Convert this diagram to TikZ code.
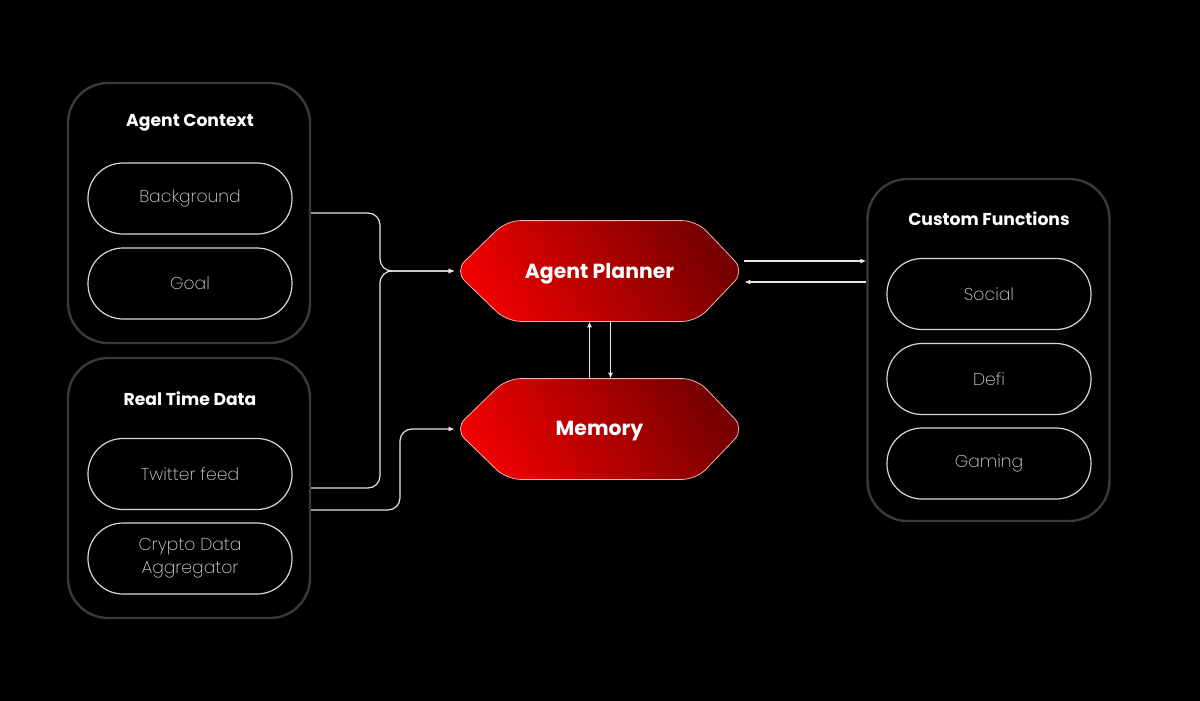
\documentclass[tikz,border=0pt]{standalone}
\usepackage{fontspec}
\setmainfont{Poppins}
\newfontfamily\lightfont{Poppins ExtraLight}
\usetikzlibrary{arrows.meta}
\definecolor{boxgray}{HTML}{3A3A3A}
\definecolor{pillgray}{HTML}{D8D8D8}
\definecolor{txtgray}{HTML}{D4D4D4}
\definecolor{linegray}{HTML}{E6E6E6}
\definecolor{redA}{HTML}{EE0000}
\definecolor{redB}{HTML}{760000}
\definecolor{hexedge}{HTML}{F0B0B0}
\tikzset{
  outerbox/.style={draw=boxgray, line width=1.2pt, rounded corners=20pt,
    minimum width=121pt, inner sep=0pt},
  pill/.style={draw=pillgray, line width=0.6pt, rounded corners=17.5pt,
    minimum width=102pt, minimum height=35.5pt, inner sep=0pt,
    font=\lightfont\fontsize{8.6}{10.5}\selectfont, text=txtgray, align=center},
  title/.style={font=\bfseries\fontsize{8.6}{10}\selectfont, text=white},
  hexanchor/.style={minimum width=144.5pt, minimum height=50pt, inner sep=0pt},
  hexlabel/.style={font=\bfseries\fontsize{10.2}{12}\selectfont, text=white},
  conn/.style={draw=linegray, line width=0.6pt, rounded corners=6pt,
    -{Latex[length=3pt,width=2.6pt]}},
}
\begin{document}
\begin{tikzpicture}[x=0.5pt,y=-0.5pt]
\fill[black] (0,0) rectangle (1200,701);
\useasboundingbox (0,0) rectangle (1200,701);

% Agent Context
\node[outerbox, minimum height=130pt] (ctx) at (189,213) {};
\node[title] (ctxt) at (190,123) {Agent Context};
\node[pill] (bg) at (190,198.5) {Background};
\node[pill] (goal) at (190,283.5) {Goal};

% Real Time Data
\node[outerbox, minimum height=130pt] (rtd) at (189,488) {};
\node[title] (rtdt) at (190,399) {Real Time Data};
\node[pill] (tw) at (190,474) {Twitter feed};
\node[pill, font=\lightfont\fontsize{8.6}{11.5}\selectfont] (cda) at (190,558.5) {Crypto Data\\Aggregator};

% Custom Functions
\node[outerbox, minimum height=171pt] (cf) at (988.5,350) {};
\node[title] (cft) at (989,219) {Custom Functions};
\node[pill] (soc) at (989,294) {Social};
\node[pill] (defi) at (989,379) {Defi};
\node[pill] (gam) at (989,463.5) {Gaming};

% Hexagons
\node[hexanchor] (ap) at (599.5,271) {};
\node[hexanchor] (mem) at (599.5,429) {};
\foreach \h in {ap,mem}{
  \shade[left color=redA, right color=redB, shading angle=120, draw=hexedge, line width=0.4pt, rounded corners=7pt]
    (\h.west) -- ([xshift=26pt]\h.north west) -- ([xshift=-24pt]\h.north east)
    -- (\h.east) -- ([xshift=-24pt]\h.south east) -- ([xshift=26pt]\h.south west) -- cycle;
}
\node[hexlabel] (apl) at ([yshift=-1.2pt]ap.center) {Agent Planner};
\node[hexlabel] (meml) at ([yshift=-1.2pt]mem.center) {Memory};

% connectors
\draw[conn] (ctx.east) -| (380,271) -- (ap.west);
\draw[conn] (rtd.east) -| (380,271) -- (ap.west);
\draw[conn] ([yshift=-11pt]rtd.east) -| (400,429) -- (mem.west);
\draw[conn] ([xshift=-5pt]mem.north) -- ([xshift=-5pt]ap.south);
\draw[conn] ([xshift=5.5pt]ap.south) -- ([xshift=5.5pt]mem.north);
\draw[conn] ([yshift=5pt]ap.east) -- ([yshift=5pt]ap.east -| cf.west);
\draw[conn] ([yshift=-5.5pt]ap.east -| cf.west) -- ([yshift=-5.5pt]ap.east);
\end{tikzpicture}
\end{document}
